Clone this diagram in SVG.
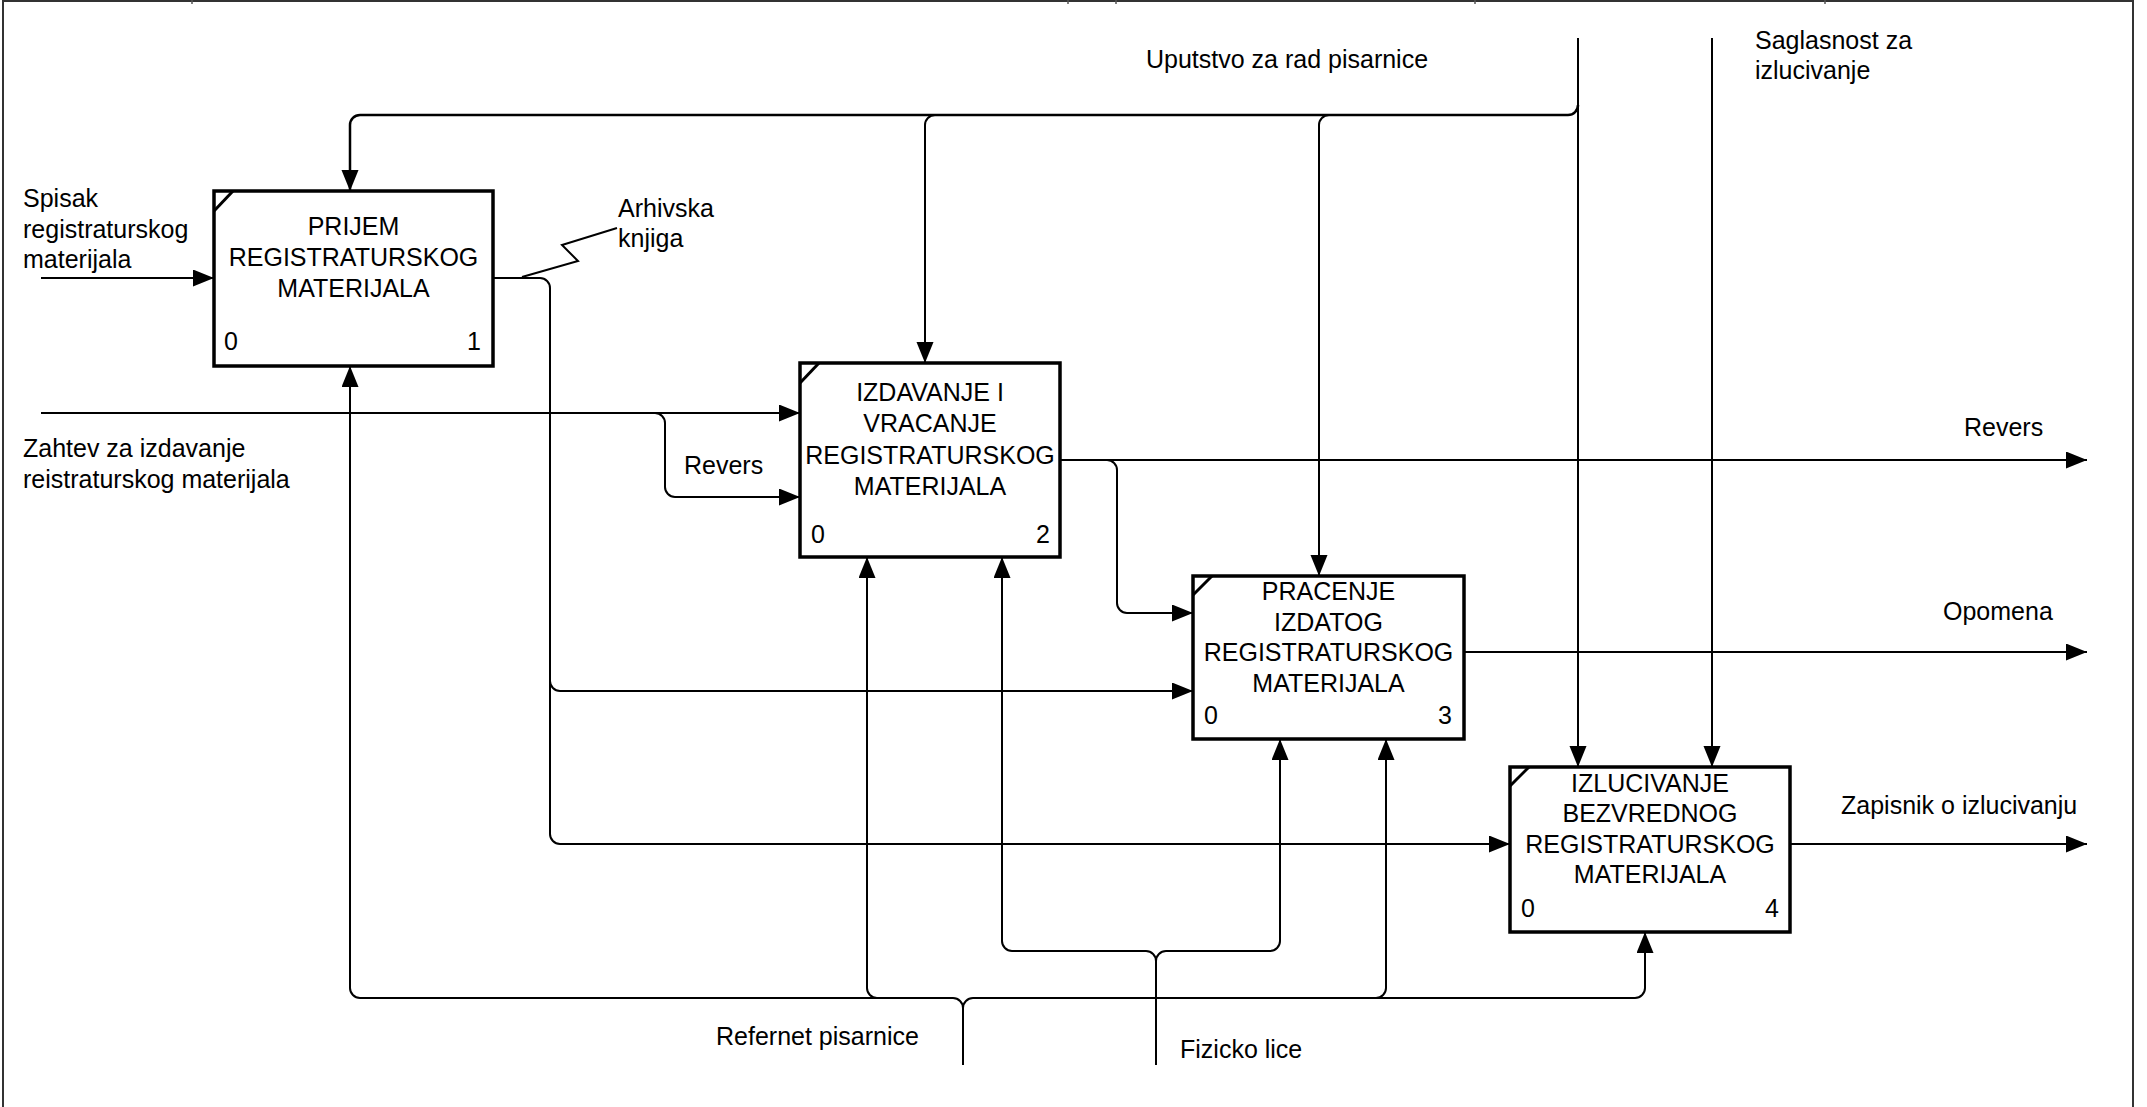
<svg xmlns="http://www.w3.org/2000/svg" width="2147" height="1107" viewBox="0 0 2147 1107">
<style>
text{font-family:"Liberation Sans",Arial,sans-serif;font-size:25px;fill:#000}
.c{text-anchor:middle}
.r{text-anchor:end}
.box{fill:#fff;stroke:#000;stroke-width:3.5}
.slash{stroke:#000;stroke-width:3;fill:none}
.ln{fill:none;stroke:#000;stroke-width:2}
.arr{fill:none;stroke:#000;stroke-width:2;marker-end:url(#ah)}
.frame{fill:none;stroke:#333;stroke-width:2}
</style>
<defs>
<marker id="ah" markerUnits="userSpaceOnUse" markerWidth="22" markerHeight="18" refX="21" refY="8.5" orient="auto">
<path d="M0,0 L21,8.5 L0,17 Z" fill="#000"/>
</marker>
</defs>
<rect width="2147" height="1107" fill="#fff"/>
<g id="frame">
<path class="frame" d="M3,1110 V1 H2133 V1110"/>
<path d="M192,0 V4 M1068,0 V4 M1116,0 V4 M1475,0 V4 M1825,0 V4" stroke="#555" stroke-width="1.5"/>
</g>
<g id="connectors">
<!-- Uputstvo za rad pisarnice -->
<path class="arr" d="M1578,38 V767"/>
<path class="arr" style="stroke-width:2.5" d="M1578,105 A10,10 0 0 1 1568,115 H360 A10,10 0 0 0 350,125 V191"/>
<path class="arr" d="M935,115 A10,10 0 0 0 925,125 V363"/>
<path class="arr" d="M1329,115 A10,10 0 0 0 1319,125 V576"/>
<!-- Saglasnost za izlucivanje -->
<path class="arr" d="M1712,38 V767"/>
<!-- Spisak -->
<path class="arr" d="M41,278 H214"/>
<!-- Zahtev -->
<path class="arr" d="M41,413 H800"/>
<path class="arr" d="M655,413 A10,10 0 0 1 665,423 V487 A10,10 0 0 0 675,497 H800"/>
<!-- Arhivska knjiga -->
<path class="arr" d="M493,278 H540 A10,10 0 0 1 550,288 V834 A10,10 0 0 0 560,844 H1510"/>
<path class="arr" d="M550,681 A10,10 0 0 0 560,691 H1193"/>
<path class="ln" d="M522,277 L578,261 L562,245 L617,228"/>
<!-- Revers output -->
<path class="arr" d="M1060,460 H2087"/>
<path class="arr" d="M1107,460 A10,10 0 0 1 1117,470 V603 A10,10 0 0 0 1127,613 H1193"/>
<!-- Opomena -->
<path class="arr" d="M1464,652 H2087"/>
<!-- Zapisnik -->
<path class="arr" d="M1790,844 H2087"/>
<!-- Refernet pisarnice -->
<path class="arr" d="M963,1065 V1008 A10,10 0 0 0 953,998 H360 A10,10 0 0 1 350,988 V366"/>
<path class="arr" d="M963,1008 A10,10 0 0 1 973,998 H1635 A10,10 0 0 0 1645,988 V932"/>
<path class="arr" d="M877,998 A10,10 0 0 1 867,988 V557"/>
<path class="arr" d="M1376,998 A10,10 0 0 0 1386,988 V739"/>
<!-- Fizicko lice -->
<path class="arr" d="M1156,1065 V961 A10,10 0 0 0 1146,951 H1012 A10,10 0 0 1 1002,941 V557"/>
<path class="arr" d="M1156,961 A10,10 0 0 1 1166,951 H1270 A10,10 0 0 0 1280,941 V739"/>
</g>
<g id="labels">
<text x="1146" y="68">Uputstvo za rad pisarnice</text>
<text x="1755" y="49">Saglasnost za</text>
<text x="1755" y="79">izlucivanje</text>
<text x="23" y="207">Spisak</text>
<text x="23" y="238">registraturskog</text>
<text x="23" y="268">materijala</text>
<text x="618" y="217">Arhivska</text>
<text x="618" y="247">knjiga</text>
<text x="23" y="457">Zahtev za izdavanje</text>
<text x="23" y="488">reistraturskog materijala</text>
<text x="684" y="474">Revers</text>
<text x="1964" y="436">Revers</text>
<text x="1943" y="620">Opomena</text>
<text x="1841" y="814">Zapisnik o izlucivanju</text>
<text x="716" y="1045">Refernet pisarnice</text>
<text x="1180" y="1058">Fizicko lice</text>
</g>
<g id="node1">
<rect class="box" x="214" y="191" width="279" height="175"/>
<path class="slash" d="M214,211 L233,191"/>
<text class="c" x="353.5" y="235">PRIJEM</text>
<text class="c" x="353.5" y="266">REGISTRATURSKOG</text>
<text class="c" x="353.5" y="297">MATERIJALA</text>
<text x="224" y="350">0</text>
<text class="r" x="481" y="350">1</text>
</g>
<g id="node2">
<rect class="box" x="800" y="363" width="260" height="194"/>
<path class="slash" d="M800,383 L819,363"/>
<text class="c" x="930" y="401">IZDAVANJE I</text>
<text class="c" x="930" y="432">VRACANJE</text>
<text class="c" x="930" y="464">REGISTRATURSKOG</text>
<text class="c" x="930" y="495">MATERIJALA</text>
<text x="811" y="543">0</text>
<text class="r" x="1050" y="543">2</text>
</g>
<g id="node3">
<rect class="box" x="1193" y="576" width="271" height="163"/>
<path class="slash" d="M1193,595 L1212,576"/>
<text class="c" x="1328.5" y="600">PRACENJE</text>
<text class="c" x="1328.5" y="631">IZDATOG</text>
<text class="c" x="1328.5" y="661">REGISTRATURSKOG</text>
<text class="c" x="1328.5" y="692">MATERIJALA</text>
<text x="1204" y="724">0</text>
<text class="r" x="1452" y="724">3</text>
</g>
<g id="node4">
<rect class="box" x="1510" y="767" width="280" height="165"/>
<path class="slash" d="M1510,786 L1529,767"/>
<text class="c" x="1650" y="792">IZLUCIVANJE</text>
<text class="c" x="1650" y="822">BEZVREDNOG</text>
<text class="c" x="1650" y="853">REGISTRATURSKOG</text>
<text class="c" x="1650" y="883">MATERIJALA</text>
<text x="1521" y="917">0</text>
<text class="r" x="1779" y="917">4</text>
</g>
</svg>
